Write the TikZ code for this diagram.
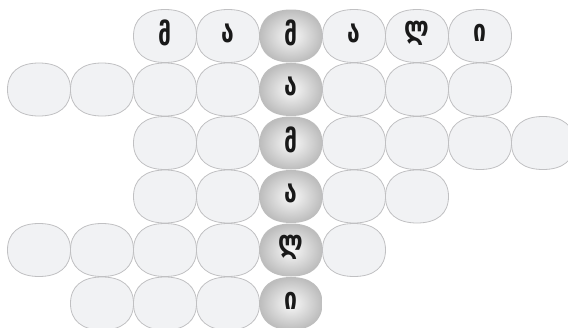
\documentclass[tikz,border=0pt]{standalone}
\usepackage{fontspec}
\newfontfamily\geofont[Script=Georgian, FakeStretch=0.74]{DejaVu Sans}
\definecolor{cellfill}{HTML}{F1F2F4}
\definecolor{celledge}{HTML}{C0C0C2}
% Клетка-"подушка" с центром (#2,#3)
\newcommand{\cellshape}[3]{%
    \path[#1] ({#2+31.5},{#3})
        .. controls ({#2+31.5},{#3+17}) and ({#2+20.2},{#3+26.5}) .. ({#2},{#3+26.5})
        .. controls ({#2-20.2},{#3+26.5}) and ({#2-31.5},{#3+17}) .. ({#2-31.5},{#3})
        .. controls ({#2-31.5},{#3-17}) and ({#2-20.2},{#3-26.5}) .. ({#2},{#3-26.5})
        .. controls ({#2+20.2},{#3-26.5}) and ({#2+31.5},{#3-17}) .. ({#2+31.5},{#3})
        -- cycle;}
\tikzset{
    plaincell/.style={draw=celledge, line width=0.8pt, fill=cellfill},
    keycell/.style={inner color=white!95!gray, outer color=black!26},
    letter/.style={inner sep=0pt, text=black!90,
        font=\geofont\bfseries\fontsize{31}{31}\selectfont}
}
\begin{document}
\begin{tikzpicture}[x=1pt, y=-1pt]
    \useasboundingbox (0,0) rectangle (568,327);
    % Пустые клетки по строкам
    \foreach \r/\first/\last in {0/2/7, 1/0/7, 2/2/8, 3/2/6, 4/0/5, 5/1/4}
        \foreach \c in {\first,...,\last}
            {\ifnum\c=4 \else
                \cellshape{plaincell}{39+63*\c}{36+53.5*\r}
                \coordinate (c-\r-\c) at ({39+63*\c}, {36+53.5*\r});
             \fi}
    % Слово по горизонтали
    \foreach \c/\ch in {2/მ, 3/ა, 5/ა, 6/ლ, 7/ი}
        \node[letter] (w-\c) at ([yshift=3pt]c-0-\c) {\ch};
    % Выделенный столбец
    \foreach \r/\ch in {0/მ, 1/ა, 2/მ, 3/ა, 4/ლ, 5/ი}
        {\cellshape{keycell}{291}{36+53.5*\r}
         \node[letter] (k-\r) at (291, {33+53.5*\r}) {\ch};}
\end{tikzpicture}
\end{document}
